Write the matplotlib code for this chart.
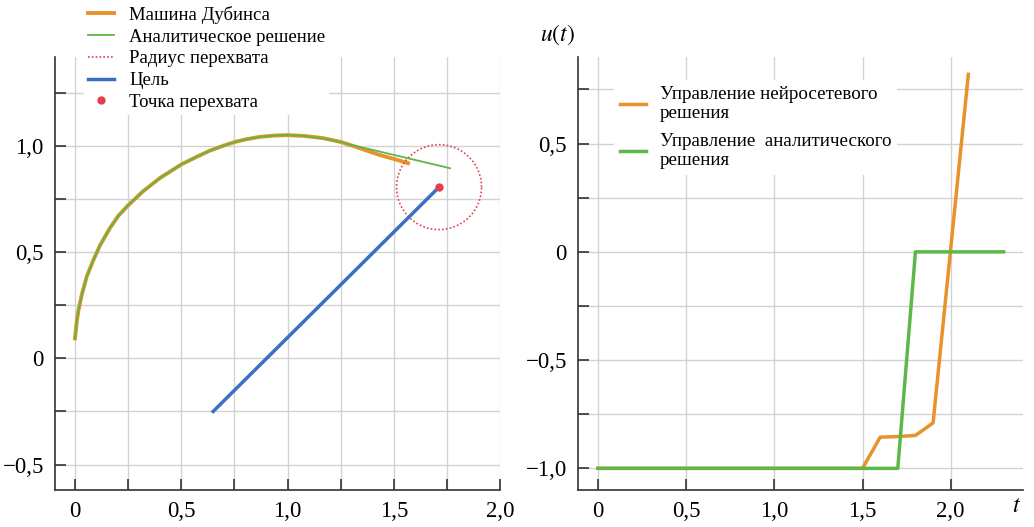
import numpy as np
import matplotlib.pyplot as plt
from matplotlib.ticker import MultipleLocator, FuncFormatter

plt.rcParams['font.family'] = ['Liberation Serif', 'DejaVu Serif']

# left panel: trajectories
dubins_x = [0, 0.008, 0.016, 0.032, 0.055, 0.086, 0.118, 0.165, 0.204, 0.251, 0.321, 0.40,
            0.502, 0.573, 0.635, 0.698, 0.753, 0.808, 0.871, 0.94, 1.002, 1.08, 1.167,
            1.25, 1.327, 1.435, 1.50, 1.567]
dubins_y = [0.094, 0.17, 0.225, 0.30, 0.385, 0.462, 0.533, 0.615, 0.672, 0.722, 0.788, 0.850,
            0.915, 0.950, 0.979, 1.002, 1.020, 1.033, 1.044, 1.050, 1.052, 1.048, 1.038,
            1.020, 0.995, 0.958, 0.940, 0.920]
anal_x = [0, 0.008, 0.016, 0.032, 0.055, 0.086, 0.118, 0.165, 0.204, 0.251, 0.321, 0.40,
          0.502, 0.573, 0.635, 0.698, 0.753, 0.808, 0.871, 0.94, 1.002, 1.08, 1.14, 1.20, 1.765]
anal_y = [0.094, 0.17, 0.225, 0.30, 0.385, 0.462, 0.533, 0.615, 0.672, 0.722, 0.788, 0.850,
          0.915, 0.950, 0.979, 1.002, 1.020, 1.033, 1.044, 1.050, 1.052, 1.048, 1.040, 1.030, 0.896]
target_x = [0.65, 1.713]
target_y = [-0.25, 0.807]
hit_x, hit_y = 1.713, 0.807
hit_r = 0.2

# right panel: controls
t_nn = [0, 1.5, 1.6, 1.7, 1.8, 1.9, 2.1]
u_nn = [-1.0, -1.0, -0.856, -0.853, -0.848, -0.79, 0.82]
t_an = [0, 1.7, 1.8, 2.3]
u_an = [-1.0, -1.0, 0.0, 0.0]

ORANGE = '#E8922A'
GREEN = '#5DB847'
BLUE = '#3A6FC4'
RED = '#E2404E'
GRID = '#d2d2d2'
SPINE = '#333333'


def comma(v, pos):
    s = f'{v:.1f}'.replace('.', ',').replace('-', '\u2212')
    if s in ('0,0', '\u22120,0'):
        return '0'
    return s


def style(ax):
    for s in ('top', 'right'):
        ax.spines[s].set_visible(False)
    for s in ('left', 'bottom'):
        ax.spines[s].set_color(SPINE)
        ax.spines[s].set_linewidth(1.2)
    ax.tick_params(which='both', direction='in', length=8, width=1.2, color=SPINE,
                   labelsize=16.5, pad=8)
    ax.grid(True, which='both', color=GRID, lw=1.0)
    ax.set_axisbelow(True)


fig = plt.figure(figsize=(10.34, 5.27), dpi=100)
ax1 = fig.add_axes([0.0532, 0.0702, 0.4304, 0.8216])
ax2 = fig.add_axes([0.559, 0.0702, 0.4304, 0.8216])

style(ax1)
circ = np.linspace(0, 2 * np.pi, 200)
ax1.plot(dubins_x, dubins_y, color=ORANGE, lw=2.8, label='Машина Дубинса', zorder=3,
         solid_joinstyle='round')
ax1.plot(anal_x, anal_y, color=GREEN, lw=1.3, label='Аналитическое решение', zorder=4,
         solid_joinstyle='round')
ax1.plot(hit_x + hit_r * np.cos(circ), hit_y + hit_r * np.sin(circ), color=RED,
         lw=1.2, ls=(0, (1, 1.3)), label='Радиус перехвата', zorder=3)
ax1.plot(target_x, target_y, color=BLUE, lw=2.5, label='Цель', zorder=3)
ax1.plot([hit_x], [hit_y], 'o', color=RED, ms=5, label='Точка перехвата', ls='none', zorder=5)
ax1.set_xlim(-0.094, 2.0)
ax1.set_ylim(-0.62, 1.42)
ax1.xaxis.set_major_locator(MultipleLocator(0.5))
ax1.xaxis.set_minor_locator(MultipleLocator(0.25))
ax1.yaxis.set_major_locator(MultipleLocator(0.5))
ax1.yaxis.set_minor_locator(MultipleLocator(0.25))
ax1.xaxis.set_major_formatter(FuncFormatter(comma))
ax1.yaxis.set_major_formatter(FuncFormatter(comma))
leg1 = ax1.legend(loc='upper left', bbox_to_anchor=(84 / 1034, 1 - 2 / 527),
                  bbox_transform=fig.transFigure, fontsize=13.5, frameon=True,
                  facecolor='white', edgecolor='none', framealpha=1,
                  handlelength=1.4, handletextpad=0.8, labelspacing=0.25,
                  borderpad=0.2, borderaxespad=0)
leg1.set_zorder(10)

style(ax2)
ax2.plot(t_nn, u_nn, color=ORANGE, lw=2.5,
         label='Управление нейросетевого\nрешения', zorder=3)
ax2.plot(t_an, u_an, color=GREEN, lw=2.5,
         label='Управление  аналитического\nрешения', zorder=4)
ax2.set_xlim(-0.113, 2.41)
ax2.set_ylim(-1.10, 0.90)
ax2.xaxis.set_major_locator(MultipleLocator(0.5))
ax2.yaxis.set_major_locator(MultipleLocator(0.5))
ax2.yaxis.set_minor_locator(MultipleLocator(0.25))
ax2.xaxis.set_major_formatter(FuncFormatter(comma))
ax2.yaxis.set_major_formatter(FuncFormatter(comma))
leg2 = ax2.legend(loc='upper left', bbox_to_anchor=(614 / 1034, 1 - 80 / 527),
                  bbox_transform=fig.transFigure, fontsize=13.7, frameon=True,
                  facecolor='white', edgecolor='none', framealpha=1,
                  handlelength=1.4, handletextpad=0.7, labelspacing=0.55,
                  borderpad=0.3, borderaxespad=0)
leg2.set_zorder(10)

fig.text(540 / 1034, 1 - 35 / 527, '$u(t)$', fontsize=17, va='center', ha='left',
         math_fontfamily='stix')
fig.text(1012 / 1034, 1 - 506 / 527, '$t$', fontsize=17, va='center', ha='left',
         math_fontfamily='stix')

fig.savefig('out.png', dpi=100)
